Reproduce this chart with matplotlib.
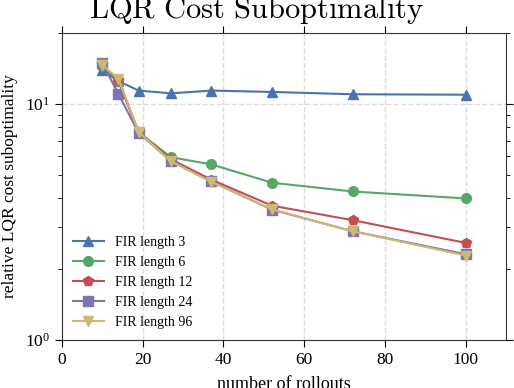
import matplotlib

matplotlib.use("Agg")
import matplotlib.pyplot as plt
from matplotlib.ticker import LogLocator, NullFormatter

plt.rcParams["font.family"] = "serif"
plt.rcParams["font.serif"] = ["Liberation Serif", "DejaVu Serif"]
plt.rcParams["mathtext.fontset"] = "cm"

rollouts = [10, 14, 19, 27, 37, 52, 72, 100]
fir3 = [13.9, 12.5, 11.4, 11.1, 11.4, 11.25, 11.0, 10.95]
fir6 = [14.5, 12.5, 7.6, 5.95, 5.55, 4.64, 4.26, 3.98]
fir12 = [14.6, 12.6, 7.6, 5.83, 4.78, 3.71, 3.22, 2.58]
fir24 = [14.9, 11.0, 7.55, 5.72, 4.70, 3.57, 2.89, 2.31]
fir96 = [14.6, 12.8, 7.6, 5.72, 4.68, 3.58, 2.89, 2.28]

series = [
    ("FIR length 3", fir3, "^", "#4C72B0"),
    ("FIR length 6", fir6, "o", "#55A868"),
    ("FIR length 12", fir12, "p", "#C44E52"),
    ("FIR length 24", fir24, "s", "#8172B2"),
    ("FIR length 96", fir96, "v", "#CCB974"),
]

fig = plt.figure(figsize=(5.14, 3.88), dpi=100)
ax = fig.add_axes([0.1206, 0.1237, 0.8638, 0.7913])
for label, vals, mk, c in series:
    ax.plot(rollouts, vals, marker=mk, color=c, lw=1.5, ms=7, label=label)

ax.set_yscale("log")
ax.set_xlim(0, 110)
ax.set_ylim(1, 20)
ax.set_xticks([0, 20, 40, 60, 80, 100])
ax.yaxis.set_minor_locator(LogLocator(base=10, subs=range(2, 10)))
ax.yaxis.set_minor_formatter(NullFormatter())
ax.tick_params(which="both", direction="out", top=True, right=True, labelsize=12.5)
ax.tick_params(which="major", length=5)
ax.tick_params(which="minor", length=3)
ax.grid(which="major", color="#dddddd", linestyle="--", lw=1)
for s in ax.spines.values():
    s.set_color("#333333")

ax.set_xlabel("number of rollouts", fontsize=13, labelpad=6)
ax.set_ylabel("relative LQR cost suboptimality", fontsize=12.5, labelpad=5)
fig.text(0.5, 0.954, r"$\mathrm{LQR\ Cost\ Suboptimality}$", fontsize=22,
         ha="center", va="baseline")
ax.legend(loc="lower left", frameon=False, fontsize=10, handlelength=2.2,
          labelspacing=0.5, borderaxespad=0.4)

fig.savefig("out.png", dpi=100)
